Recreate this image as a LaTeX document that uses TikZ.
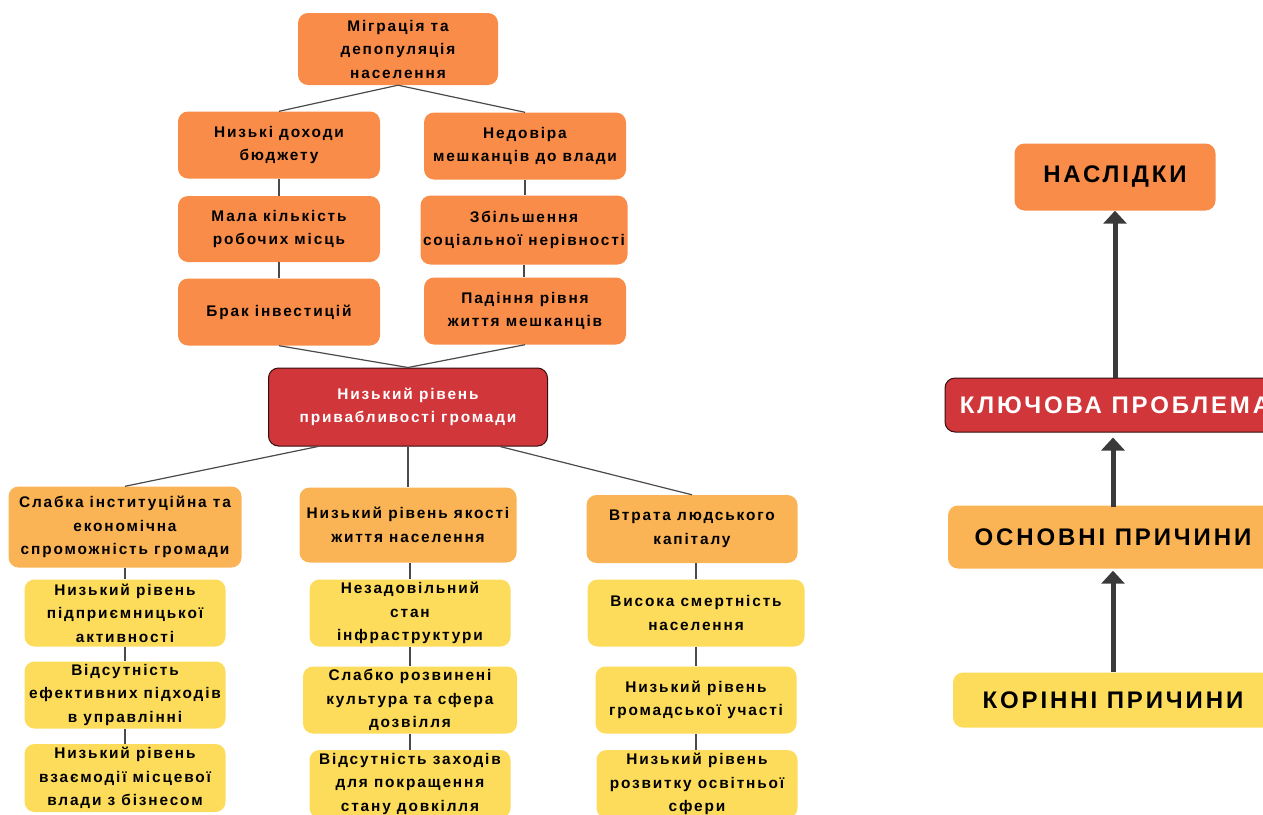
\documentclass[tikz,border=0pt]{standalone}
\usepackage{fontspec}
\setmainfont{Liberation Sans}[LetterSpace=12]
\usetikzlibrary{arrows.meta}
\definecolor{corange}{HTML}{F98C48}
\definecolor{clight}{HTML}{FBB455}
\definecolor{cyellow}{HTML}{FDDC5C}
\definecolor{cred}{HTML}{D0363A}
\definecolor{cline}{HTML}{4A4A4A}
\definecolor{carrow}{HTML}{3A3A3A}
\begin{document}
\begin{tikzpicture}[x=1pt,y=-1pt,
 box/.style={rounded corners=10pt, align=center, inner sep=0pt, font=\fontsize{15.4}{23.5}\selectfont\bfseries, text=black},
 cons/.style={box, fill=corange},
 mainc/.style={box, fill=clight},
 rootc/.style={box, fill=cyellow},
 keyc/.style={box, fill=cred, draw=black!75!cred, line width=1pt, text=white},
 link/.style={draw=cline, line width=1.2pt},
 bigarrow/.style={draw=carrow, line width=5pt, -{Triangle[length=13pt,width=23pt]}},
 legend/.style={font=\fontsize{24}{28}\selectfont\bfseries}
]
\useasboundingbox (0,0) rectangle (1263,814);
% consequences
\node[cons, minimum width=200pt, minimum height=72pt] (mig) at (398,49) {Міграція та\\депопуляція\\населення};
\node[cons, minimum width=202pt, minimum height=67pt] (nd) at (279,145) {Низькі доходи\\бюджету};
\node[cons, minimum width=202pt, minimum height=67pt] (ndv) at (525,146) {Недовіра\\мешканців до влади};
\node[cons, minimum width=202pt, minimum height=66pt] (mk) at (279,229) {Мала кількість\\робочих місць};
\node[cons, minimum width=207pt, minimum height=69pt] (zb) at (524,230) {Збільшення\\соціальної нерівності};
\node[cons, minimum width=202pt, minimum height=67pt] (br) at (279,312) {Брак інвестицій};
\node[cons, minimum width=202pt, minimum height=67pt] (pd) at (525,311) {Падіння рівня\\життя мешканців};
% key problem
\node[keyc, minimum width=279pt, minimum height=78pt] (key) at (408,407) {Низький рівень\\привабливості громади};
% main causes
\node[mainc, minimum width=233pt, minimum height=81pt] (sl) at (125,527) {Слабка інституційна та\\економічна\\спроможність громади};
\node[mainc, minimum width=217pt, minimum height=75pt] (nr) at (408,525) {Низький рівень якості\\життя населення};
\node[mainc, minimum width=211pt, minimum height=68pt] (vt) at (692,529) {Втрата людського\\капіталу};
% root causes
\node[rootc, minimum width=201pt, minimum height=67pt] (a1) at (125,613) {Низький рівень\\підприємницької\\активності};
\node[rootc, minimum width=201pt, minimum height=67pt] (a2) at (125,695) {Відсутність\\ефективних підходів\\в управлінні};
\node[rootc, minimum width=201pt, minimum height=68pt] (a3) at (125,778) {Низький рівень\\взаємодії місцевої\\влади з бізнесом};
\node[rootc, minimum width=201pt, minimum height=67pt] (b1) at (410,613) {Незадовільний\\стан\\інфраструктури};
\node[rootc, minimum width=214pt, minimum height=67pt] (b2) at (410,700) {Слабко розвинені\\культура та сфера\\дозвілля};
\node[rootc, minimum width=201pt, minimum height=68pt] (b3) at (410,784) {Відсутність заходів\\для покращення\\стану довкілля};
\node[rootc, minimum width=217pt, minimum height=67pt] (c1) at (696,613) {Висока смертність\\населення};
\node[rootc, minimum width=201pt, minimum height=67pt] (c2) at (696,700) {Низький рівень\\громадської участі};
\node[rootc, minimum width=201pt, minimum height=68pt] (c3) at (697,784) {Низький рівень\\розвитку освітньої\\сфери};
% connectors
\draw[link] (mig.south) -- (nd.north);
\draw[link] (mig.south) -- (ndv.north);
\draw[link] (nd) -- (mk);
\draw[link] (mk) -- (br);
\draw[link] (ndv.south) -- (ndv.south |- zb.north);
\draw[link] (zb.south) -- (zb.south |- pd.north);
\draw[link] (br.south) -- (key.north);
\draw[link] (pd.south) -- (key.north);
\draw[link] ([xshift=-90pt]key.south) -- (sl.north);
\draw[link] (key.south) -- (key.south |- nr.north);
\draw[link] ([xshift=92pt]key.south) -- (vt.north);
\draw[link] (sl) -- (a1);
\draw[link] (a1) -- (a2);
\draw[link] (a2) -- (a3);
\draw[link] (b1.north |- nr.south) -- (b1.north);
\draw[link] (b1) -- (b2);
\draw[link] (b2) -- (b3);
\draw[link] (c1.north |- vt.south) -- (c1.north);
\draw[link] (c1) -- (c2);
\draw[link] (c2.south) -- (c2.south |- c3.north);
% legend
\node[cons, legend, minimum width=201pt, minimum height=67pt] (lns) at (1115,177) {НАСЛІДКИ};
\node[keyc, legend, minimum width=340pt, minimum height=54pt] (lkp) at (1115,405) {КЛЮЧОВА ПРОБЛЕМА};
\node[mainc, legend, minimum width=330pt, minimum height=63pt] (lop) at (1113,537) {ОСНОВНІ ПРИЧИНИ};
\node[rootc, legend, minimum width=320pt, minimum height=55pt] (lkr) at (1113,700) {КОРІННІ ПРИЧИНИ};
\draw[bigarrow] (lkp.north -| lns.south) -- (lns.south);
\draw[bigarrow] ([yshift=-2pt]lop.north) -- ([yshift=-5pt]lkp.south -| lop.north);
\draw[bigarrow] (lkr.north) -- ([yshift=-2pt]lop.south);
\end{tikzpicture}
\end{document}
